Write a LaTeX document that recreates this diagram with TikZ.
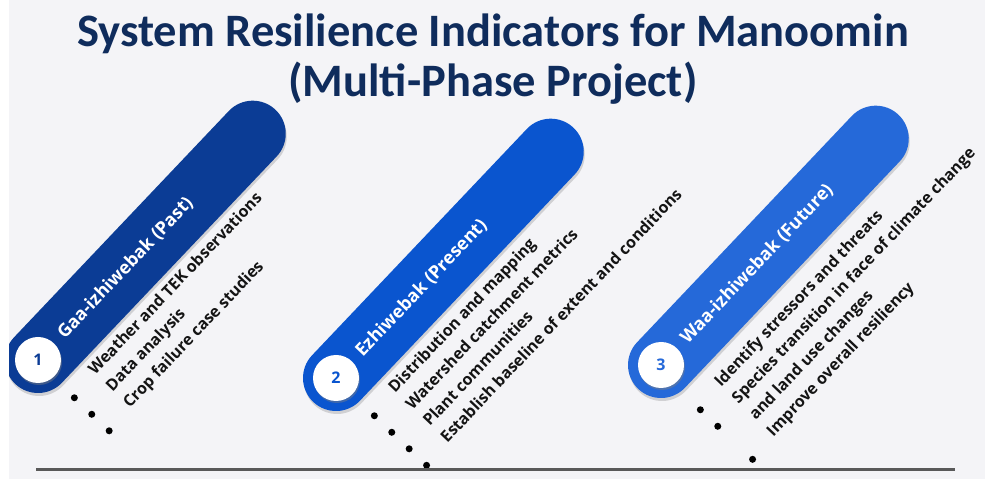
\documentclass[tikz,border=0pt]{standalone}
\usepackage{fontspec}
\setmainfont{Open Sans}
\newfontfamily\titlefont{Carlito}
\usetikzlibrary{calc,shadows}

\definecolor{bggray}{HTML}{F4F4F7}
\definecolor{titleblue}{HTML}{0F2C5C}
\definecolor{pastblue}{HTML}{0B3C95}
\definecolor{presblue}{HTML}{0A55CF}
\definecolor{futblue}{HTML}{2569D9}

\tikzset{
  pill/.style={rectangle, rounded corners=33pt, minimum width=378pt, minimum height=66pt,
    inner sep=0pt, fill=#1, rotate=46.5,
    drop shadow={shadow xshift=1pt, shadow yshift=-3pt, opacity=.3}},
  numdot/.style={circle, fill=white, minimum size=46pt, inner sep=0pt, text=#1,
    font=\bfseries\fontsize{16}{16}\selectfont,
    drop shadow={shadow xshift=1pt, shadow yshift=-2pt, opacity=.45}},
  phase/.style={rotate=46.5, anchor=west, inner sep=0pt, text=white,
    font=\bfseries\fontsize{18}{20}\selectfont},
  items/.style={rotate=46.5, anchor=base west, inner sep=0pt, text=black!92,
    font=\bfseries\fontsize{16}{24}\selectfont},
  bul/.style={circle, fill=black, inner sep=0pt, minimum size=7pt},
  titletxt/.style={anchor=base, inner sep=0pt, text=titleblue,
    font=\titlefont\bfseries\fontsize{46.5}{50}\selectfont}
}

\begin{document}
\begin{tikzpicture}[x=1pt,y=1pt]
  \useasboundingbox (0,0) rectangle (985,479);
  \fill[bggray] (0,0) rectangle (985,479);

  % title
  \node[titletxt] (title) at (493,432) {System Resilience Indicators for Manoomin};
  \node[titletxt] (subtitle) at (493,382) {(Multi-Phase Project)};

  % pill ends and text starts
  \coordinate (c1) at (38,119);
  \coordinate (c2) at (336,101);
  \coordinate (c3) at (661,114);
  \coordinate (t1) at (95,103);
  \coordinate (t2) at (395,85);
  \coordinate (t3) at (721,91);

  % past
  \node[pill=pastblue] (p1) at ($(c1)+(46.5:156)$) {};
  \node[numdot=pastblue] (n1) at (c1) {1};
  \node[phase] (l1) at ($(c1)+(46.5:33)$) {Gaa-izhiwebak (Past)};
  \foreach \txt [count=\k from 0] in {Weather and TEK observations,Data analysis,Crop failure case studies}
    \node[items] (i1-\k) at ($(t1)+(-43.5:24*\k)$) {\txt};
  \foreach \k in {0,1,2}
    \node[bul] (b1-\k) at ($(i1-\k.base west)+(46.5:-30)$) {};

  % present
  \node[pill=presblue] (p2) at ($(c2)+(46.5:156)$) {};
  \node[numdot=presblue] (n2) at (c2) {2};
  \node[phase] (l2) at ($(c2)+(46.5:33)$) {Ezhiwebak (Present)};
  \foreach \txt [count=\k from 0] in {Distribution and mapping,Watershed catchment metrics,Plant communities,Establish baseline of extent and conditions}
    \node[items] (i2-\k) at ($(t2)+(-43.5:24*\k)$) {\txt};
  \foreach \k in {0,1,2,3}
    \node[bul] (b2-\k) at ($(i2-\k.base west)+(46.5:-30)$) {};

  % future
  \node[pill=futblue] (p3) at ($(c3)+(46.5:156)$) {};
  \node[numdot=futblue] (n3) at (c3) {3};
  \node[phase] (l3) at ($(c3)+(46.5:33)$) {Waa-izhiwebak (Future)};
  \foreach \txt [count=\k from 0] in {Identify stressors and threats,Species transition in face of climate change,and land use changes,Improve overall resiliency}
    \node[items] (i3-\k) at ($(t3)+(-43.5:24*\k)$) {\txt};
  \foreach \k in {0,1,3}
    \node[bul] (b3-\k) at ($(i3-\k.base west)+(46.5:-30)$) {};

  % left margin and base rule
  \fill[white] (0,0) rectangle (9,479);
  \coordinate (rulel) at (36,9);
  \coordinate (ruler) at (955,9);
  \draw[line width=3pt, black!65] (rulel) -- (ruler);
\end{tikzpicture}
\end{document}
